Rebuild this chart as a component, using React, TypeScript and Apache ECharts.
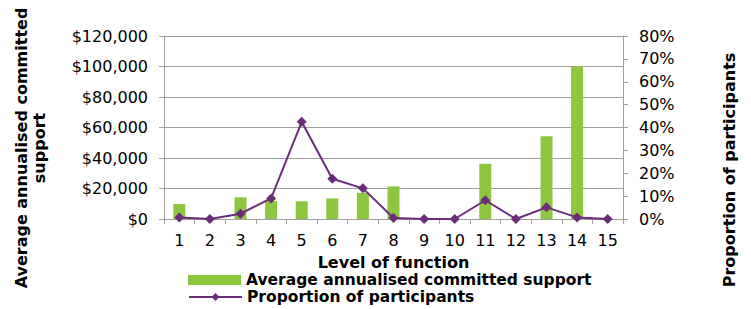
import React, { useEffect, useRef } from "react";
import * as echarts from "echarts";

const categories = ["1", "2", "3", "4", "5", "6", "7", "8", "9", "10", "11", "12", "13", "14", "15"];
const supportValues = [9800, 0, 14200, 11800, 11600, 13500, 17200, 21400, 0, 0, 36200, 0, 54300, 99800, 0];
const proportionValues = [0.7, 0, 2.3, 9.0, 42.5, 17.6, 13.4, 0.4, 0, 0, 8.2, 0, 5.1, 0.7, 0];
const leftTicks = { min: 0, max: 120000, interval: 20000 };
const rightTicks = { min: 0, max: 80, interval: 10 };

const FONT = "DejaVu Sans, Liberation Sans, Arial, sans-serif";
const GREEN = "#8DC63F";
const PURPLE = "#6B2C7A";
const GRID = "#A0A0A0";

export default function App() {
  const ref = useRef<HTMLDivElement>(null);
  useEffect(() => {
    document.body.style.margin = "0";
    document.body.style.overflow = "hidden";
    if (!ref.current) return;
    const chart = echarts.init(ref.current, null, { renderer: "svg" });
    const legendText = { fontFamily: FONT, fontSize: 15.5, fontWeight: "bold", color: "#000", lineHeight: 16 };
    chart.setOption({
      animation: false,
      textStyle: { fontFamily: FONT },
      grid: { left: 164, right: 128, top: 36, bottom: 90 },
      xAxis: {
        type: "category",
        data: categories,
        name: "Level of function",
        nameLocation: "middle",
        nameGap: 35,
        nameTextStyle: { fontFamily: FONT, fontSize: 16, fontWeight: "bold", color: "#000" },
        axisLine: { lineStyle: { color: GRID } },
        axisTick: { show: true, length: 5, lineStyle: { color: GRID } },
        axisLabel: { fontFamily: FONT, fontSize: 16, color: "#000", margin: 13 },
      },
      yAxis: [
        {
          type: "value",
          ...leftTicks,
          axisLine: { show: true, lineStyle: { color: GRID } },
          axisTick: { show: true, length: 5, lineStyle: { color: GRID } },
          splitLine: { lineStyle: { color: GRID } },
          axisLabel: {
            fontFamily: FONT,
            fontSize: 16,
            color: "#000",
            margin: 16,
            formatter: (v: number) => "$" + v.toLocaleString("en-US"),
          },
        },
        {
          type: "value",
          ...rightTicks,
          position: "right",
          axisLine: { show: true, lineStyle: { color: GRID } },
          axisTick: { show: true, length: 5, lineStyle: { color: GRID } },
          splitLine: { show: false },
          axisLabel: {
            fontFamily: FONT,
            fontSize: 16,
            color: "#000",
            margin: 16,
            formatter: (v: number) => v + "%",
          },
        },
      ],
      legend: [
        {
          left: 188,
          top: 272,
          padding: 0,
          itemWidth: 53,
          itemHeight: 10,
          textStyle: legendText,
          data: [{ name: "Average annualised committed support", icon: "rect" }],
        },
        {
          left: 188,
          top: 289,
          padding: 0,
          itemWidth: 53,
          itemHeight: 10,
          textStyle: legendText,
          data: [{ name: "Proportion of participants" }],
        },
      ],
      graphic: [
        {
          type: "text",
          x: 30,
          y: 148,
          rotation: Math.PI / 2,
          style: {
            text: "Average annualised committed\nsupport",
            font: "bold 16px " + FONT,
            fill: "#000",
            align: "center",
            verticalAlign: "middle",
            lineHeight: 18,
          },
        },
        {
          type: "text",
          x: 729,
          y: 170,
          rotation: Math.PI / 2,
          style: {
            text: "Proportion of participants",
            font: "bold 16px " + FONT,
            fill: "#000",
            align: "center",
            verticalAlign: "middle",
          },
        },
      ],
      series: [
        {
          name: "Average annualised committed support",
          type: "bar",
          data: supportValues,
          yAxisIndex: 0,
          barWidth: 12,
          itemStyle: { color: GREEN },
        },
        {
          name: "Proportion of participants",
          type: "line",
          data: proportionValues,
          yAxisIndex: 1,
          symbol: "diamond",
          symbolSize: 10,
          lineStyle: { color: PURPLE, width: 2 },
          itemStyle: { color: PURPLE },
        },
      ],
    });
    return () => chart.dispose();
  }, []);
  return <div ref={ref} style={{ width: 751, height: 309 }} />;
}
